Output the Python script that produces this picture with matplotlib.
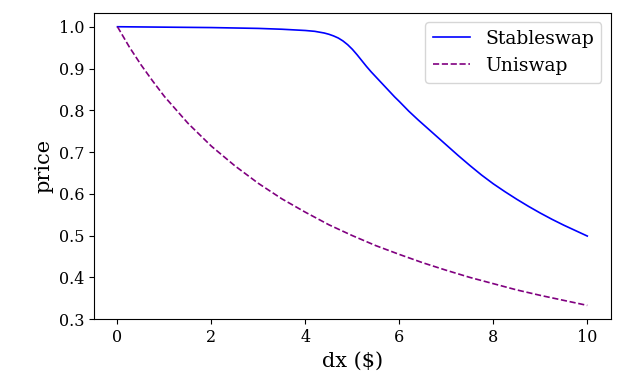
import matplotlib
matplotlib.use("Agg")
import matplotlib.pyplot as plt

plt.rcParams['font.family'] = 'DejaVu Serif'

# values
dx = [0, 0.25, 0.5, 0.75, 1, 1.5, 2, 2.5, 3, 3.5, 4, 4.5, 5, 5.5, 6, 6.5, 7, 7.5, 8, 8.5, 9, 9.5, 10]
uniswap = [1.0, 0.952, 0.909, 0.870, 0.833, 0.769, 0.714, 0.667, 0.625, 0.588, 0.556, 0.526, 0.5,
           0.476, 0.455, 0.435, 0.417, 0.4, 0.385, 0.370, 0.357, 0.345, 0.333]

dx_stable = [0, 1, 2, 3, 3.5, 4, 4.2, 4.4, 4.5, 4.6, 4.7, 4.8, 4.9, 5.0, 5.1, 5.2, 5.3, 5.4,
             5.5, 5.6, 5.7, 5.8, 5.9, 6.0, 6.2, 6.4, 6.6, 6.8, 7.0, 7.25, 7.5, 7.75, 8.0,
             8.25, 8.5, 8.75, 9.0, 9.25, 9.5, 9.75, 10]
stableswap = [1.0, 0.999, 0.998, 0.996, 0.994, 0.991, 0.989, 0.985, 0.982, 0.978, 0.973,
              0.966, 0.957, 0.946, 0.933, 0.919, 0.905, 0.892, 0.880, 0.868, 0.856, 0.844,
              0.832, 0.821, 0.798, 0.777, 0.757, 0.737, 0.717, 0.692, 0.668, 0.645, 0.624,
              0.605, 0.587, 0.570, 0.554, 0.539, 0.525, 0.512, 0.499]

fig = plt.figure(figsize=(6.29, 3.88), dpi=100)
ax = fig.add_axes([0.1494, 0.177, 0.8216, 0.790])
ax.plot(dx_stable, stableswap, color='blue', lw=1.2, label='Stableswap')
ax.plot(dx, uniswap, color='purple', lw=1.2, ls='--', label='Uniswap')
ax.set_xlabel('dx ($)', fontsize=15)
ax.set_ylabel('price', fontsize=15)
ax.tick_params(labelsize=11.5)
ax.legend(loc='upper right', fontsize=13.5)
fig.savefig('out.png')
